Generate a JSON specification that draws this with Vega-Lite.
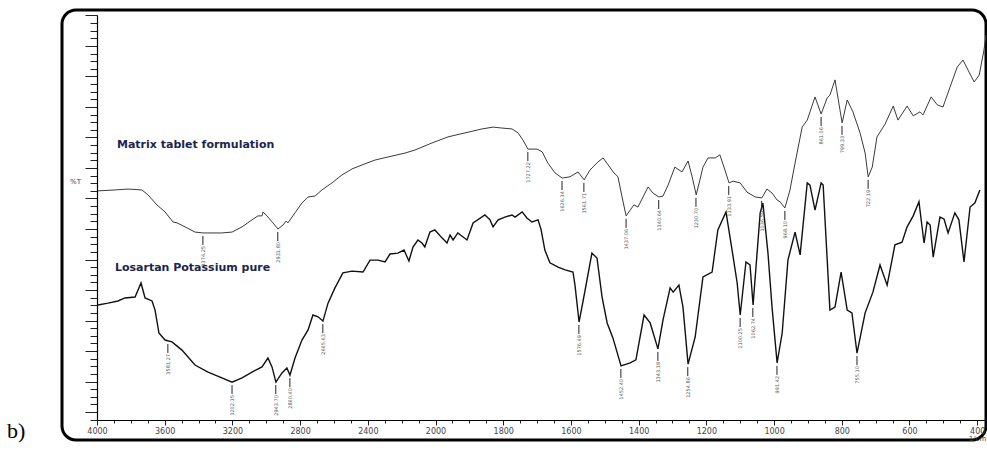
{
  "$schema": "https://vega.github.io/schema/vega-lite/v6.json",
  "width": 924,
  "height": 430,
  "autosize": {"type": "none"},
  "padding": {"left": 62, "top": 10, "right": 1, "bottom": 10},
  "background": "white",
  "config": {"view": {"stroke": "black", "strokeWidth": 3, "cornerRadius": 14}},
  "title": {"text": "b)", "orient": "bottom", "anchor": "start", "frame": "group", "font": "Liberation Serif", "fontSize": 22, "fontWeight": "normal", "color": "black", "dx": -55, "offset": -20},
  "datasets": {
    "spectra": [
      {"s":"matrix","w":3994,"t":72.5},{"s":"matrix","w":3894,"t":72.8},{"s":"matrix","w":3817,"t":73.1},{"s":"matrix","w":3734,"t":72.8},{"s":"matrix","w":3699,"t":71.2},{"s":"matrix","w":3646,"t":67.9},{"s":"matrix","w":3598,"t":65.6},{"s":"matrix","w":3551,"t":62.3},{"s":"matrix","w":3527,"t":62.0},{"s":"matrix","w":3480,"t":60.7},{"s":"matrix","w":3421,"t":59.0},{"s":"matrix","w":3374,"t":58.7},{"s":"matrix","w":3315,"t":58.7},{"s":"matrix","w":3262,"t":58.7},{"s":"matrix","w":3202,"t":59.0},{"s":"matrix","w":3143,"t":60.7},{"s":"matrix","w":3084,"t":63.0},{"s":"matrix","w":3049,"t":64.3},{"s":"matrix","w":3025,"t":64.3},{"s":"matrix","w":3019,"t":65.6},{"s":"matrix","w":2996,"t":64.3},{"s":"matrix","w":2960,"t":62.0},{"s":"matrix","w":2931,"t":60.0},{"s":"matrix","w":2901,"t":61.3},{"s":"matrix","w":2883,"t":62.6},{"s":"matrix","w":2872,"t":62.0},{"s":"matrix","w":2830,"t":65.3},{"s":"matrix","w":2789,"t":68.5},{"s":"matrix","w":2753,"t":70.5},{"s":"matrix","w":2712,"t":70.8},{"s":"matrix","w":2671,"t":72.8},{"s":"matrix","w":2612,"t":75.1},{"s":"matrix","w":2553,"t":77.7},{"s":"matrix","w":2493,"t":79.7},{"s":"matrix","w":2434,"t":81.0},{"s":"matrix","w":2358,"t":82.6},{"s":"matrix","w":2281,"t":83.6},{"s":"matrix","w":2180,"t":84.9},{"s":"matrix","w":2121,"t":85.9},{"s":"matrix","w":2021,"t":88.2},{"s":"matrix","w":1963,"t":90.2},{"s":"matrix","w":1913,"t":91.5},{"s":"matrix","w":1863,"t":92.8},{"s":"matrix","w":1830,"t":93.4},{"s":"matrix","w":1804,"t":93.1},{"s":"matrix","w":1774,"t":92.8},{"s":"matrix","w":1756,"t":91.5},{"s":"matrix","w":1742,"t":89.2},{"s":"matrix","w":1727,"t":86.2},{"s":"matrix","w":1700,"t":86.2},{"s":"matrix","w":1685,"t":85.3},{"s":"matrix","w":1668,"t":81.6},{"s":"matrix","w":1647,"t":78.4},{"s":"matrix","w":1626,"t":76.7},{"s":"matrix","w":1603,"t":77.1},{"s":"matrix","w":1579,"t":78.7},{"s":"matrix","w":1561,"t":76.1},{"s":"matrix","w":1544,"t":79.3},{"s":"matrix","w":1520,"t":82.0},{"s":"matrix","w":1505,"t":83.3},{"s":"matrix","w":1490,"t":81.0},{"s":"matrix","w":1473,"t":78.4},{"s":"matrix","w":1461,"t":77.1},{"s":"matrix","w":1449,"t":70.5},{"s":"matrix","w":1437,"t":64.3},{"s":"matrix","w":1425,"t":66.2},{"s":"matrix","w":1414,"t":67.9},{"s":"matrix","w":1402,"t":67.2},{"s":"matrix","w":1387,"t":70.5},{"s":"matrix","w":1372,"t":73.8},{"s":"matrix","w":1358,"t":71.8},{"s":"matrix","w":1340,"t":70.5},{"s":"matrix","w":1328,"t":70.8},{"s":"matrix","w":1313,"t":74.4},{"s":"matrix","w":1293,"t":80.3},{"s":"matrix","w":1272,"t":78.7},{"s":"matrix","w":1254,"t":82.3},{"s":"matrix","w":1242,"t":77.1},{"s":"matrix","w":1230,"t":71.2},{"s":"matrix","w":1219,"t":76.1},{"s":"matrix","w":1210,"t":80.3},{"s":"matrix","w":1195,"t":83.3},{"s":"matrix","w":1174,"t":83.3},{"s":"matrix","w":1160,"t":84.3},{"s":"matrix","w":1145,"t":79.3},{"s":"matrix","w":1133,"t":75.1},{"s":"matrix","w":1121,"t":75.7},{"s":"matrix","w":1100,"t":75.1},{"s":"matrix","w":1080,"t":72.1},{"s":"matrix","w":1056,"t":70.5},{"s":"matrix","w":1036,"t":70.2},{"s":"matrix","w":1021,"t":73.1},{"s":"matrix","w":1006,"t":71.8},{"s":"matrix","w":991,"t":69.5},{"s":"matrix","w":982,"t":68.9},{"s":"matrix","w":968,"t":66.9},{"s":"matrix","w":953,"t":72.8},{"s":"matrix","w":938,"t":81.6},{"s":"matrix","w":917,"t":93.4},{"s":"matrix","w":902,"t":95.7},{"s":"matrix","w":879,"t":103.3},{"s":"matrix","w":861,"t":97.7},{"s":"matrix","w":843,"t":103.0},{"s":"matrix","w":835,"t":103.9},{"s":"matrix","w":820,"t":108.9},{"s":"matrix","w":799,"t":94.8},{"s":"matrix","w":784,"t":102.3},{"s":"matrix","w":767,"t":98.4},{"s":"matrix","w":746,"t":91.5},{"s":"matrix","w":731,"t":84.9},{"s":"matrix","w":722,"t":77.1},{"s":"matrix","w":710,"t":80.3},{"s":"matrix","w":696,"t":90.2},{"s":"matrix","w":672,"t":94.4},{"s":"matrix","w":648,"t":100.3},{"s":"matrix","w":634,"t":95.7},{"s":"matrix","w":607,"t":100.3},{"s":"matrix","w":589,"t":97.1},{"s":"matrix","w":569,"t":98.4},{"s":"matrix","w":560,"t":97.4},{"s":"matrix","w":536,"t":103.3},{"s":"matrix","w":518,"t":100.7},{"s":"matrix","w":501,"t":100.0},{"s":"matrix","w":480,"t":106.6},{"s":"matrix","w":459,"t":113.1},{"s":"matrix","w":442,"t":115.4},{"s":"matrix","w":427,"t":112.1},{"s":"matrix","w":409,"t":108.2},{"s":"matrix","w":394,"t":110.5},{"s":"matrix","w":380,"t":118.7},{"s":"matrix","w":374,"t":123.6},
      {"s":"pure","w":3994,"t":35.1},{"s":"pure","w":3935,"t":35.7},{"s":"pure","w":3876,"t":36.4},{"s":"pure","w":3835,"t":37.4},{"s":"pure","w":3775,"t":37.7},{"s":"pure","w":3740,"t":42.3},{"s":"pure","w":3716,"t":37.4},{"s":"pure","w":3675,"t":36.4},{"s":"pure","w":3657,"t":33.4},{"s":"pure","w":3634,"t":25.9},{"s":"pure","w":3598,"t":23.6},{"s":"pure","w":3557,"t":23.0},{"s":"pure","w":3498,"t":20.3},{"s":"pure","w":3421,"t":15.4},{"s":"pure","w":3344,"t":13.1},{"s":"pure","w":3262,"t":11.2},{"s":"pure","w":3202,"t":9.8},{"s":"pure","w":3143,"t":11.2},{"s":"pure","w":3084,"t":13.1},{"s":"pure","w":3025,"t":14.8},{"s":"pure","w":2990,"t":17.7},{"s":"pure","w":2966,"t":14.8},{"s":"pure","w":2943,"t":9.8},{"s":"pure","w":2907,"t":12.8},{"s":"pure","w":2878,"t":14.4},{"s":"pure","w":2860,"t":12.1},{"s":"pure","w":2830,"t":17.7},{"s":"pure","w":2789,"t":23.6},{"s":"pure","w":2753,"t":26.9},{"s":"pure","w":2724,"t":31.8},{"s":"pure","w":2694,"t":31.2},{"s":"pure","w":2665,"t":29.8},{"s":"pure","w":2635,"t":35.7},{"s":"pure","w":2594,"t":40.7},{"s":"pure","w":2547,"t":45.6},{"s":"pure","w":2493,"t":46.2},{"s":"pure","w":2428,"t":45.9},{"s":"pure","w":2387,"t":49.8},{"s":"pure","w":2340,"t":49.8},{"s":"pure","w":2298,"t":49.2},{"s":"pure","w":2269,"t":51.8},{"s":"pure","w":2222,"t":52.1},{"s":"pure","w":2186,"t":53.1},{"s":"pure","w":2157,"t":49.5},{"s":"pure","w":2133,"t":54.1},{"s":"pure","w":2104,"t":56.4},{"s":"pure","w":2080,"t":55.4},{"s":"pure","w":2063,"t":54.1},{"s":"pure","w":2033,"t":59.0},{"s":"pure","w":2004,"t":59.7},{"s":"pure","w":1981,"t":57.1},{"s":"pure","w":1966,"t":55.4},{"s":"pure","w":1957,"t":58.0},{"s":"pure","w":1948,"t":56.4},{"s":"pure","w":1934,"t":58.7},{"s":"pure","w":1907,"t":56.4},{"s":"pure","w":1889,"t":62.0},{"s":"pure","w":1854,"t":64.6},{"s":"pure","w":1839,"t":63.0},{"s":"pure","w":1830,"t":60.7},{"s":"pure","w":1815,"t":63.0},{"s":"pure","w":1795,"t":63.9},{"s":"pure","w":1774,"t":64.6},{"s":"pure","w":1765,"t":63.9},{"s":"pure","w":1744,"t":65.6},{"s":"pure","w":1730,"t":63.6},{"s":"pure","w":1715,"t":62.3},{"s":"pure","w":1697,"t":63.0},{"s":"pure","w":1688,"t":59.7},{"s":"pure","w":1677,"t":53.1},{"s":"pure","w":1662,"t":48.9},{"s":"pure","w":1638,"t":47.5},{"s":"pure","w":1617,"t":46.6},{"s":"pure","w":1594,"t":45.9},{"s":"pure","w":1588,"t":41.6},{"s":"pure","w":1576,"t":29.5},{"s":"pure","w":1558,"t":40.0},{"s":"pure","w":1538,"t":52.1},{"s":"pure","w":1523,"t":50.5},{"s":"pure","w":1508,"t":37.7},{"s":"pure","w":1493,"t":29.2},{"s":"pure","w":1476,"t":24.3},{"s":"pure","w":1452,"t":15.1},{"s":"pure","w":1425,"t":16.1},{"s":"pure","w":1408,"t":17.1},{"s":"pure","w":1384,"t":31.8},{"s":"pure","w":1366,"t":29.2},{"s":"pure","w":1343,"t":20.7},{"s":"pure","w":1328,"t":30.2},{"s":"pure","w":1307,"t":40.7},{"s":"pure","w":1298,"t":39.3},{"s":"pure","w":1281,"t":41.6},{"s":"pure","w":1269,"t":34.4},{"s":"pure","w":1254,"t":15.7},{"s":"pure","w":1233,"t":24.6},{"s":"pure","w":1210,"t":44.3},{"s":"pure","w":1183,"t":45.9},{"s":"pure","w":1166,"t":59.7},{"s":"pure","w":1142,"t":65.6},{"s":"pure","w":1124,"t":53.1},{"s":"pure","w":1109,"t":42.3},{"s":"pure","w":1100,"t":31.8},{"s":"pure","w":1083,"t":49.2},{"s":"pure","w":1071,"t":48.2},{"s":"pure","w":1062,"t":35.1},{"s":"pure","w":1041,"t":65.3},{"s":"pure","w":1033,"t":68.5},{"s":"pure","w":1018,"t":52.1},{"s":"pure","w":1006,"t":34.4},{"s":"pure","w":991,"t":16.1},{"s":"pure","w":976,"t":25.9},{"s":"pure","w":959,"t":49.8},{"s":"pure","w":938,"t":59.0},{"s":"pure","w":923,"t":51.5},{"s":"pure","w":902,"t":75.1},{"s":"pure","w":894,"t":74.4},{"s":"pure","w":879,"t":66.2},{"s":"pure","w":861,"t":75.1},{"s":"pure","w":855,"t":74.4},{"s":"pure","w":835,"t":33.4},{"s":"pure","w":820,"t":34.4},{"s":"pure","w":802,"t":45.9},{"s":"pure","w":784,"t":33.4},{"s":"pure","w":770,"t":32.5},{"s":"pure","w":755,"t":19.3},{"s":"pure","w":731,"t":32.5},{"s":"pure","w":708,"t":39.3},{"s":"pure","w":687,"t":48.2},{"s":"pure","w":666,"t":41.6},{"s":"pure","w":643,"t":54.8},{"s":"pure","w":622,"t":55.7},{"s":"pure","w":607,"t":60.7},{"s":"pure","w":589,"t":64.3},{"s":"pure","w":572,"t":68.9},{"s":"pure","w":557,"t":55.4},{"s":"pure","w":548,"t":62.3},{"s":"pure","w":539,"t":61.3},{"s":"pure","w":530,"t":50.8},{"s":"pure","w":510,"t":63.9},{"s":"pure","w":498,"t":63.3},{"s":"pure","w":486,"t":58.7},{"s":"pure","w":466,"t":65.3},{"s":"pure","w":454,"t":63.0},{"s":"pure","w":439,"t":49.2},{"s":"pure","w":421,"t":67.2},{"s":"pure","w":407,"t":68.5},{"s":"pure","w":392,"t":72.8}
    ],
    "peaks": [
      {"s":"matrix","w":3374.25,"t":58.7},{"s":"matrix","w":2931.8,"t":60.0},{"s":"matrix","w":1727.22,"t":86.2},{"s":"matrix","w":1626.34,"t":76.7},{"s":"matrix","w":1561.71,"t":76.1},{"s":"matrix","w":1437.06,"t":64.3},{"s":"matrix","w":1340.64,"t":70.5},{"s":"matrix","w":1230.7,"t":71.2},{"s":"matrix","w":1133.91,"t":75.1},{"s":"matrix","w":1036.59,"t":70.2},{"s":"matrix","w":968.1,"t":66.9},{"s":"matrix","w":861.06,"t":97.7},{"s":"matrix","w":799.33,"t":94.8},{"s":"matrix","w":722.19,"t":77.1},
      {"s":"pure","w":3581.27,"t":23.3},{"s":"pure","w":3202.15,"t":9.8},{"s":"pure","w":2943.7,"t":9.8},{"s":"pure","w":2860.4,"t":12.1},{"s":"pure","w":2665.63,"t":29.8},{"s":"pure","w":1576.49,"t":29.5},{"s":"pure","w":1452.4,"t":15.1},{"s":"pure","w":1343.18,"t":20.7},{"s":"pure","w":1254.86,"t":15.7},{"s":"pure","w":1100.25,"t":31.8},{"s":"pure","w":1062.74,"t":35.1},{"s":"pure","w":991.42,"t":16.1},{"s":"pure","w":755.1,"t":19.3}
    ],
    "names": [
      {"name":"Matrix tablet formulation","w":3882,"t":87.5},
      {"name":"Losartan Potassium pure","w":3894,"t":47.2}
    ]
  },
  "encoding": {
    "x": {
      "field": "w", "type": "quantitative",
      "scale": {"domain": [4000, 2000, 374], "range": [35, 373.5, 924], "zero": false, "nice": false},
      "axis": {
        "orient": "bottom", "offset": -20, "grid": false,
        "values": [4000,3900,3800,3700,3600,3500,3400,3300,3200,3100,3000,2900,2800,2700,2600,2500,2400,2300,2200,2100,2000,1950,1900,1850,1800,1750,1700,1650,1600,1550,1500,1450,1400,1350,1300,1250,1200,1150,1100,1050,1000,950,900,850,800,750,700,650,600,550,500,450,400],
        "format": "d",
        "labelExpr": "((datum.value >= 2000 && datum.value % 400 == 0) || (datum.value < 2000 && datum.value % 200 == 0)) ? datum.label : ''",
        "labelFont": "DejaVu Sans", "labelFontSize": 8, "labelColor": "#444", "labelPadding": 2, "labelFlush": false, "labelOverlap": false,
        "tickSize": {"condition": {"test": "(datum.value >= 2000 && datum.value % 400 == 0) || (datum.value < 2000 && datum.value % 200 == 0)", "value": 5}, "value": 3},
        "tickColor": "#222", "tickWidth": 1,
        "domainColor": "black", "domainWidth": 1.2,
        "title": "1/cm", "titleFont": "DejaVu Sans", "titleFontSize": 7, "titleFontWeight": "normal", "titleColor": "#444", "titleX": 915, "titleY": 14
      }
    },
    "y": {
      "field": "t", "type": "quantitative",
      "scale": {"domain": [-2.62, 130.16], "range": [410, 5], "zero": false, "nice": false},
      "axis": {
        "orient": "left", "offset": -35, "grid": false, "labels": false,
        "values": [-2.5,0,2.5,5,7.5,10,12.5,15,17.5,20,22.5,25,27.5,30,32.5,35,37.5,40,42.5,45,47.5,50,52.5,55,57.5,60,62.5,65,67.5,70,72.5,75,77.5,80,82.5,85,87.5,90,92.5,95,97.5,100,102.5,105,107.5,110,112.5,115,117.5,120,122.5,125,127.5,130],
        "tickSize": {"condition": {"test": "datum.value % 10 == 0", "value": 12}, "value": 7},
        "tickColor": "#222", "tickWidth": 1,
        "domainColor": "black", "domainWidth": 1.2,
        "title": "%T", "titleAngle": 0, "titleX": -22, "titleY": 171, "titleAlign": "center", "titleBaseline": "middle",
        "titleFont": "DejaVu Sans", "titleFontSize": 7, "titleFontWeight": "normal", "titleColor": "#444"
      }
    }
  },
  "layer": [
    {
      "data": {"name": "spectra"},
      "mark": {"type": "line", "interpolate": "linear"},
      "encoding": {
        "color": {"field": "s", "type": "nominal", "scale": {"domain": ["matrix", "pure"], "range": ["#3a3a3a", "#111111"]}, "legend": null},
        "strokeWidth": {"field": "s", "type": "nominal", "scale": {"domain": ["matrix", "pure"], "range": [1, 1.4]}, "legend": null}
      }
    },
    {
      "data": {"name": "peaks"},
      "mark": {"type": "rule", "color": "#222", "strokeWidth": 1, "yOffset": 3, "y2Offset": 12},
      "encoding": {
        "y2": {"field": "t"}
      }
    },
    {
      "data": {"name": "peaks"},
      "mark": {"type": "text", "angle": 270, "align": "right", "baseline": "middle", "fontSize": 5, "font": "DejaVu Sans", "color": "#555", "yOffset": 13},
      "encoding": {
        "text": {"field": "w", "type": "quantitative", "format": ".2f"}
      }
    },
    {
      "data": {"name": "names"},
      "mark": {"type": "text", "align": "left", "baseline": "middle", "font": "DejaVu Sans", "fontWeight": "bold", "fontSize": 11, "color": "#1b2550"},
      "encoding": {
        "text": {"field": "name"}
      }
    }
  ]
}
